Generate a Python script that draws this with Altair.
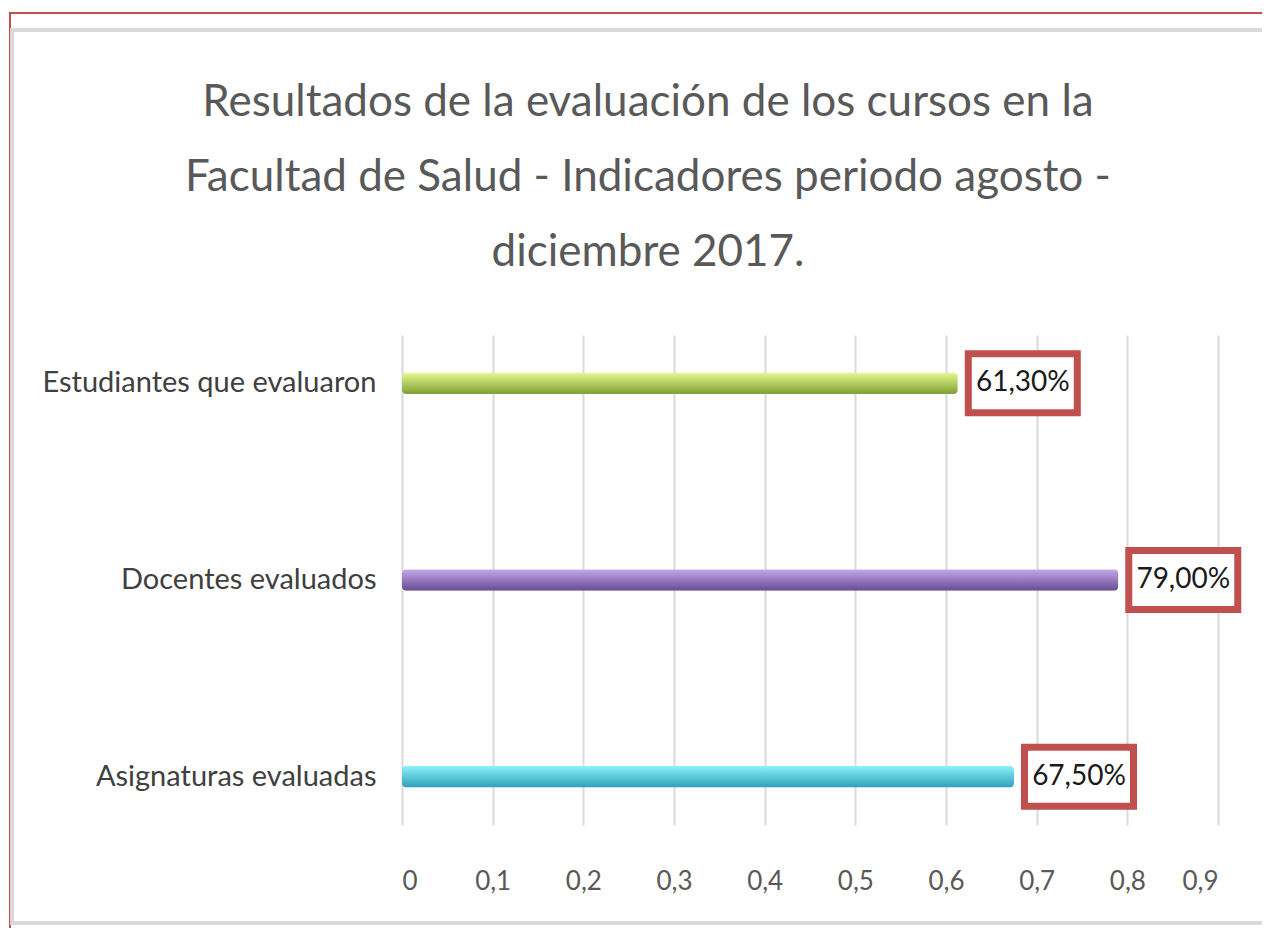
import altair as alt
import pandas as pd

# ---- data ----
categories = ["Estudiantes que evaluaron", "Docentes evaluados", "Asignaturas evaluadas"]
values = [0.613, 0.79, 0.675]
labels = [f"{v * 100:.2f}%".replace(".", ",") for v in values]
x_ticks = [0, 0.1, 0.2, 0.3, 0.4, 0.5, 0.6, 0.7, 0.8, 0.9]
title_lines = [
    "Resultados de la evaluación de los cursos en la",
    "Facultad de Salud - Indicadores periodo agosto -",
    "diciembre 2017.",
]

# ---- styles ----
tops = ["#e6fa8e", "#c6a8ee", "#8cf1fb"]
bottoms = ["#7fa036", "#674a90", "#2e9fba"]
FONT = "Lato"
W, H = 816, 490

df = pd.DataFrame({"cat": categories, "v": values, "label": labels})

y_enc = alt.Y(
    "cat:N",
    sort=categories,
    scale=alt.Scale(paddingInner=0.89, paddingOuter=0.19),
    axis=alt.Axis(
        title=None, labelFont=FONT, labelFontSize=29, labelColor="#404040",
        labelPadding=26, ticks=False, domain=False, labelLimit=400,
    ),
)
x_enc = alt.X(
    "v:Q",
    scale=alt.Scale(domain=[0, 0.9], nice=False),
    axis=alt.Axis(
        title=None, values=x_ticks,
        labelExpr="replace(format(datum.value, '~g'), '.', ',')",
        grid=True, gridColor="#d9d9d9", gridWidth=2, ticks=False, domain=False,
        labelPadding=43, labelFontSize=26, labelColor="#595959", labelFont=FONT,
    ),
)

decor = alt.Data(values=[{"k": 1}])
frame_red = alt.Chart(decor).mark_rect(fill=None, stroke="#c0504d", strokeWidth=2).encode(
    x=alt.value(-392), x2=alt.value(900), y=alt.value(-322), y2=alt.value(700)
)
frame_gray = alt.Chart(decor).mark_rect(fill=None, stroke="#d9d9d9", strokeWidth=4).encode(
    x=alt.value(-390), x2=alt.value(880), y=alt.value(-305), y2=alt.value(588)
)

bars = []
for i, c in enumerate(categories):
    grad = alt.Gradient(
        gradient="linear",
        stops=[
            alt.GradientStop(color=tops[i], offset=0),
            alt.GradientStop(color=bottoms[i], offset=1),
        ],
        x1=0, x2=0, y1=0, y2=1,
    )
    bars.append(
        alt.Chart(df)
        .transform_filter(alt.datum.cat == c)
        .mark_bar(color=grad, cornerRadius=4)
        .encode(x=x_enc, y=y_enc)
    )

box = alt.Chart(df).mark_bar(
    size=59, fill="white", stroke="#c0504d", strokeWidth=7, xOffset=10.5, x2Offset=119.5
).encode(x="v:Q", x2="v:Q", y=y_enc)

text = alt.Chart(df).mark_text(
    xOffset=65, align="center", baseline="middle", fontSize=28, font=FONT, color="#1a1a1a"
).encode(x="v:Q", y=y_enc, text="label:N")

chart = alt.layer(frame_red, frame_gray, *bars, box, text).properties(
    width=W,
    height=H,
    autosize=alt.AutoSizeParams(type="none"),
    padding={"left": 394, "top": 327, "right": 44, "bottom": 103},
    background="white",
    title=alt.Title(
        text=title_lines, font=FONT, fontSize=44, fontWeight="normal", color="#595959",
        lineHeight=75, anchor="middle", dx=-162, offset=0, dy=263, frame="group",
    ),
).configure_view(stroke=None)

chart.save("out.html", embed_options={"renderer": "svg", "actions": False})
